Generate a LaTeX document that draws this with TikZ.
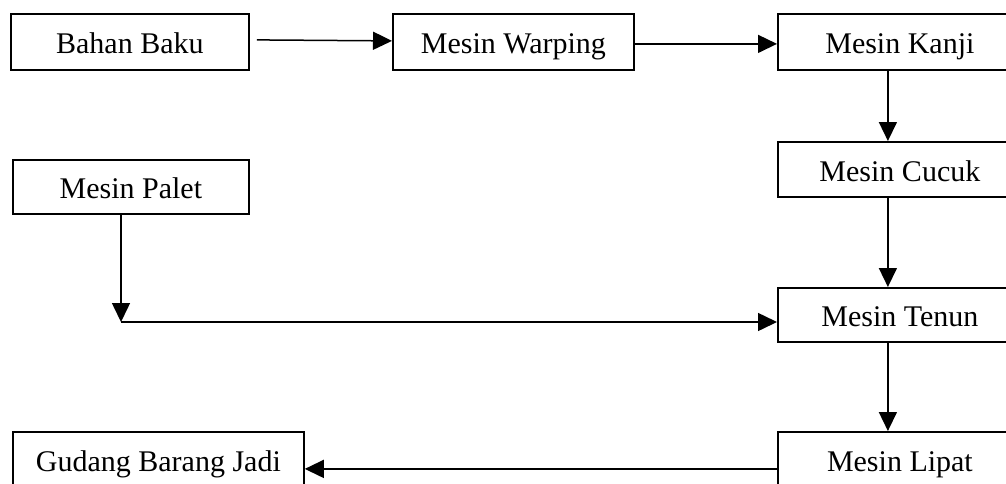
\documentclass[tikz,border=0pt]{standalone}
\usepackage{fontspec}
\setmainfont{Liberation Serif}
\usetikzlibrary{arrows.meta}

\tikzset{
  box/.style={draw, line width=1.8pt, inner sep=0pt, anchor=north west,
    minimum height=56pt, font=\fontsize{30}{36}\selectfont,
    text height=24pt, text depth=0pt},
  flow/.style={line width=1.5pt, -{Triangle[length=19pt,width=18pt]}}
}

\begin{document}
\begin{tikzpicture}[x=1pt, y=-1pt]
  \clip (0,0) rectangle (1006,483);
  \fill[white] (0,0) rectangle (1006,483);

  % top row
  \node[box, minimum width=238pt] (bahan)   at (10,13)  {Bahan Baku};
  \node[box, minimum width=241pt] (warping) at (392,13) {Mesin Warping};
  \node[box, minimum width=244pt] (kanji)   at (777,13) {Mesin Kanji};

  % right column
  \node[box, minimum width=244pt, minimum height=55pt] (cucuk) at (777,141) {Mesin Cucuk};
  \node[box, minimum width=244pt, minimum height=54pt] (tenun) at (777,287) {Mesin Tenun};
  \node[box, minimum width=244pt] (lipat) at (777,431) {Mesin Lipat};

  % left column
  \node[box, minimum width=236pt, minimum height=54pt] (palet) at (12,159) {Mesin Palet};
  \node[box, minimum width=291pt] (gudang) at (12,431) {Gudang Barang Jadi};

  % connectors
  \draw[flow] ([xshift=7pt,yshift=2pt]bahan.east) -- ([yshift=1pt]warping.west);
  \draw[flow] ([yshift=-2pt]warping.east) -- ([yshift=-2pt]kanji.west);
  \draw[flow] ([xshift=-12pt]kanji.south) -- ([xshift=-12pt]cucuk.north);
  \draw[flow] ([xshift=-12pt]cucuk.south) -- ([xshift=-12pt]tenun.north);
  \draw[flow] ([xshift=-12pt]tenun.south) -- ([xshift=-12pt]lipat.north);

  \coordinate (bend) at (121,322);
  \draw[flow] (palet.south -| bend) -- (bend);
  \draw[flow] (bend) -- (bend -| tenun.west);

  \coordinate (ret) at ([yshift=-9pt]lipat.west);
  \draw[flow] (ret) -- (ret -| gudang.east);
\end{tikzpicture}
\end{document}
